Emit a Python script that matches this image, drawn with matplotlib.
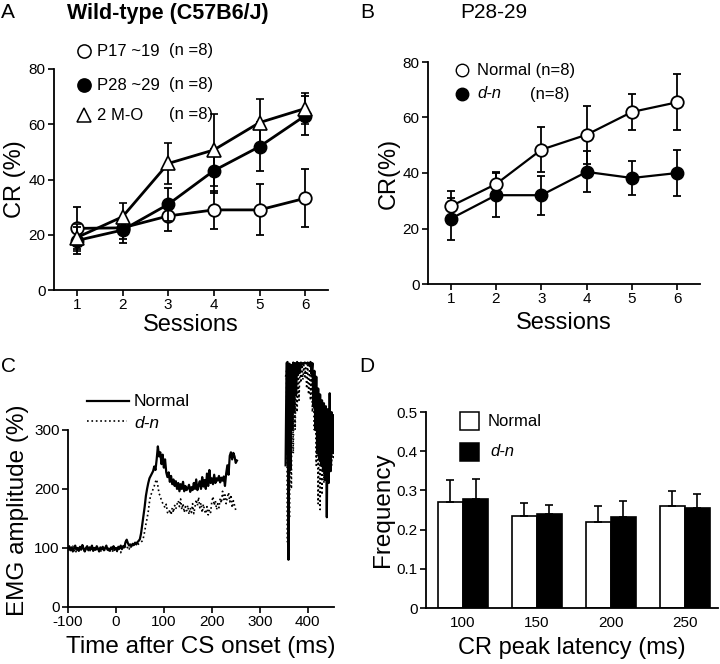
import numpy as np
import matplotlib.pyplot as plt

plt.rcParams['font.family'] = ['Liberation Sans', 'DejaVu Sans']
plt.rcParams['axes.unicode_minus'] = False

# Panel A: wild-type, CR (%) per session
sessions = [1, 2, 3, 4, 5, 6]
p17_mean = [22.3, 22.5, 26.8, 29.0, 29.0, 33.2]
p17_err = [7.6, 4.0, 5.5, 7.0, 9.2, 10.5]
p28_mean = [17.9, 21.7, 31.0, 43.2, 51.9, 63.1]
p28_err = [5.0, 4.6, 6.0, 8.0, 9.0, 7.0]
m2_mean = [19.0, 26.5, 45.8, 50.7, 60.6, 65.7]
m2_err = [5.0, 5.0, 7.5, 13.0, 8.5, 5.5]

# Panel B: P28-29, normal vs d-n
normal_mean = [28.0, 36.0, 48.4, 53.8, 62.0, 65.5]
normal_err = [5.4, 4.2, 8.2, 10.5, 6.5, 10.0]
dn_mean = [23.5, 32.0, 32.0, 40.4, 38.2, 40.0]
dn_err = [7.5, 8.0, 7.0, 7.4, 6.3, 8.2]

# Panel C: EMG amplitude traces, 2.5 ms steps from -100 ms
emg_normal = [98, 103, 96, 101, 94, 99, 104, 97, 100, 95,
              102, 97, 105, 99, 94, 100, 103, 96, 101, 98,
              104, 95, 100, 97, 103, 99, 94, 101, 98, 102,
              96, 100, 104, 97, 99, 95, 101, 98, 103, 97,
              100, 96, 102, 99, 104, 98, 103, 101, 110, 114,
              108, 104, 106, 103, 107, 105, 109, 106, 110, 112,
              115, 125, 140, 155, 170, 188, 200, 210, 218, 222,
              226, 230, 238, 232, 250, 272, 255, 262, 242, 258,
              236, 250, 228, 220, 228, 212, 222, 208, 216, 205,
              213, 200, 210, 196, 208, 200, 212, 196, 205, 198,
              201, 207, 195, 203, 198, 210, 200, 216, 198, 206,
              213, 200, 220, 204, 215, 200, 226, 205, 232, 210,
              218, 208, 224, 210, 218, 214, 222, 211, 219, 214,
              221, 205, 226, 240, 224, 256, 262, 250, 261, 255,
              244, 248]
emg_dn = [96, 101, 94, 99, 103, 95, 98, 92, 100, 97,
          94, 99, 96, 101, 93, 98, 95, 100, 97, 94,
          99, 96, 102, 94, 98, 95, 100, 97, 93, 99,
          95, 98, 101, 94, 97, 100, 96, 93, 99, 95,
          97, 94, 99, 96, 92, 100, 104, 98, 103, 99,
          102, 98, 104, 100, 103, 106, 104, 108, 105, 107,
          108, 110, 112, 118, 128, 140, 150, 162, 178, 190,
          193, 200, 205, 212, 216, 205, 192, 188, 180, 176,
          172, 168, 174, 160, 158, 165, 156, 168, 160, 172,
          166, 174, 180, 170, 183, 165, 175, 160, 170, 163,
          172, 157, 168, 160, 175, 158, 170, 182, 172, 186,
          168, 176, 160, 174, 163, 158, 170, 156, 165, 160,
          178, 187, 172, 180, 165, 175, 168, 184, 176, 196,
          182, 190, 175, 186, 194, 178, 190, 168, 180, 172,
          164, 162]
emg_time = -100 + 2.5 * np.arange(len(emg_normal))

# overflow segment at the right of panel C (2 ms steps from 354 ms)
tail_normal = [240, 413, 415, 80, 412, 232, 410, 300, 414, 330,
               413, 360, 415, 395, 413, 400, 414, 410, 413, 412,
               414, 413, 412, 414, 413, 408, 415, 395, 413, 340,
               400, 300, 390, 260, 370, 250, 360, 240, 350, 230,
               345, 215, 340, 152, 335, 210, 362, 230, 330, 260,
               325, 300]
tail_dn = [390, 400, 110, 405, 150, 400, 200, 410, 260, 405,
           300, 410, 330, 412, 350, 412, 380, 410, 385, 410,
           390, 405, 370, 410, 360, 400, 350, 395, 330, 385,
           300, 375, 240, 360, 175, 350, 165, 340, 190, 330,
           210, 320, 235, 325, 240, 310, 250, 315, 240, 300,
           250, 280]
tail_time = 354 + 2 * np.arange(len(tail_normal))

# Panel D: CR peak latency distribution
latency = ['100', '150', '200', '250']
freq_normal = [0.270, 0.235, 0.220, 0.260]
freq_normal_err = [0.057, 0.033, 0.040, 0.038]
freq_dn = [0.278, 0.240, 0.232, 0.255]
freq_dn_err = [0.052, 0.024, 0.042, 0.035]

W, H = 720, 664


def box(left, top, right, bottom):
    return [left / W, 1 - bottom / H, (right - left) / W, (bottom - top) / H]


def style_axes(ax):
    for s in ['top', 'right']:
        ax.spines[s].set_visible(False)
    for s in ['left', 'bottom']:
        ax.spines[s].set_linewidth(1.3)
    ax.tick_params(direction='out', length=4, width=1.2, labelsize=11, pad=2)


def fig_text(x, y, s, **kw):
    fig.text(x / W, 1 - y / H, s, **kw)


fig = plt.figure(figsize=(7.2, 6.64), dpi=100)

# ---- A ----
axA = fig.add_axes(box(54, 69, 328, 290))
style_axes(axA)
eb = dict(color='black', elinewidth=1.3, capsize=3, capthick=1.3, lw=2.0)
axA.errorbar(sessions, p17_mean, yerr=p17_err, marker='o', ms=9, mfc='white',
             mec='black', mew=1.3, zorder=2, **eb)
axA.errorbar(sessions, p28_mean, yerr=p28_err, marker='o', ms=9, mfc='black',
             mec='black', zorder=3, **eb)
axA.errorbar(sessions, m2_mean, yerr=m2_err, marker='^', ms=10, mfc='white',
             mec='black', mew=1.2, zorder=4, **eb)
axA.set_xlim(0.5, 6.5)
axA.set_ylim(0, 80)
axA.set_xticks(sessions)
axA.set_yticks([0, 20, 40, 60, 80])
axA.set_xlabel('Sessions', fontsize=17, labelpad=1)
axA.set_ylabel('CR (%)', fontsize=17, labelpad=2)

legA = [('o', 'white', 'P17 ~19', 51), ('o', 'black', 'P28 ~29', 85),
        ('^', 'white', '2 M-O', 115)]
for mk, fc, lab, y in legA:
    fig.lines.append(plt.Line2D([84 / W], [1 - y / H], marker=mk, ms=9.5, mfc=fc,
                                mec='black', mew=1.1, ls='none',
                                transform=fig.transFigure, figure=fig))
    fig_text(97, y, lab, fontsize=12, va='center')
    fig_text(169, y, '(n =8)', fontsize=12, va='center')

# ---- B ----
axB = fig.add_axes(box(428, 62, 700, 284))
style_axes(axB)
ebB = dict(color='black', elinewidth=1.3, capsize=3, capthick=1.3, lw=1.6)
axB.errorbar(sessions, dn_mean, yerr=dn_err, marker='o', ms=9, mfc='black',
             mec='black', zorder=2, **ebB)
axB.errorbar(sessions, normal_mean, yerr=normal_err, marker='o', ms=9, mfc='white',
             mec='black', mew=1.3, zorder=3, **ebB)
axB.set_xlim(0.5, 6.5)
axB.set_ylim(0, 80)
axB.set_xticks(sessions)
axB.set_yticks([0, 20, 40, 60, 80])
axB.set_xlabel('Sessions', fontsize=17, labelpad=4)
axB.set_ylabel('CR(%)', fontsize=17, labelpad=2)

for fc, y in [('white', 70), ('black', 94)]:
    fig.lines.append(plt.Line2D([462 / W], [1 - y / H], marker='o', ms=9, mfc=fc,
                                mec='black', mew=1.0, ls='none',
                                transform=fig.transFigure, figure=fig))
fig_text(477, 70, 'Normal (n=8)', fontsize=12, va='center')
fig_text(477, 94, 'd-n', fontsize=12, va='center', style='italic')
fig_text(530, 94, '(n=8)', fontsize=12, va='center')

# ---- C ----
axC = fig.add_axes(box(68, 359, 334, 607))
style_axes(axC)
axC.plot(emg_time, emg_normal, color='black', lw=1.6)
axC.plot(emg_time, emg_dn, color='black', lw=1.2, ls=':')
axC.plot(tail_time, tail_normal, color='black', lw=1.6)
axC.plot(tail_time, tail_dn, color='black', lw=1.2, ls=':')
axC.set_xlim(-100, 455)
axC.set_ylim(0, 420)
axC.spines['left'].set_bounds(0, 300)
axC.set_xticks([-100, 0, 100, 200, 300, 400])
axC.set_yticks([0, 100, 200, 300])
axC.set_xlabel('Time after CS onset (ms)', fontsize=17.5, labelpad=5)
axC.set_ylabel('EMG amplitude (%)', fontsize=17.5)
axC.yaxis.set_label_coords(-0.148, (607 - 510) / 248)

fig.lines.append(plt.Line2D([87 / W, 129 / W], [1 - 401 / H] * 2, color='black',
                            lw=1.6, transform=fig.transFigure, figure=fig))
fig.lines.append(plt.Line2D([87 / W, 127 / W], [1 - 421 / H] * 2, color='black',
                            lw=1.2, ls=':', transform=fig.transFigure, figure=fig))
fig_text(134, 401, 'Normal', fontsize=12.5, va='center')
fig_text(134, 423, 'd-n', fontsize=12.5, va='center', style='italic')

# ---- D ----
axD = fig.add_axes(box(426, 412, 718, 608))
style_axes(axD)
xD = np.arange(len(latency))
bw = 0.34
axD.bar(xD - bw / 2, freq_normal, bw, color='white', edgecolor='black', lw=1.2,
        yerr=[np.zeros(len(xD)), freq_normal_err],
        error_kw=dict(ecolor='black', elinewidth=1.2, capsize=3, capthick=1.2))
axD.bar(xD + bw / 2, freq_dn, bw, color='black', edgecolor='black', lw=1.2,
        yerr=[np.zeros(len(xD)), freq_dn_err],
        error_kw=dict(ecolor='black', elinewidth=1.2, capsize=3, capthick=1.2))
axD.set_xlim(-0.5, 3.45)
axD.set_ylim(0, 0.5)
axD.set_xticks(xD)
axD.set_xticklabels(latency)
axD.set_yticks([0, 0.1, 0.2, 0.3, 0.4, 0.5])
axD.set_yticklabels(['0', '0.1', '0.2', '0.3', '0.4', '0.5'])
axD.tick_params(axis='x', length=0, pad=6)
axD.set_xlabel('CR peak latency (ms)', fontsize=17, labelpad=5)
axD.set_ylabel('Frequency', fontsize=17.5, labelpad=2)

for fc, y in [('white', 421), ('black', 452)]:
    fig.patches.append(plt.Rectangle((460 / W, 1 - (y + 9) / H), 19 / W, 18 / H,
                                     facecolor=fc, edgecolor='black', lw=1.1,
                                     transform=fig.transFigure, figure=fig))
fig_text(488, 421, 'Normal', fontsize=12, va='center')
fig_text(490, 452, 'd-n', fontsize=12, va='center', style='italic')

# panel letters and titles
fig_text(8, 12, 'A', fontsize=15, ha='center', va='center')
fig_text(67, 13, 'Wild-type (C57B6/J)', fontsize=15.5, fontweight='bold', va='center')
fig_text(367, 12, 'B', fontsize=15, ha='center', va='center')
fig_text(460, 12, 'P28-29', fontsize=15, va='center')
fig_text(9, 366, 'C', fontsize=15, ha='center', va='center')
fig_text(367, 366, 'D', fontsize=15, ha='center', va='center')

fig.savefig('out.png', dpi=100)
